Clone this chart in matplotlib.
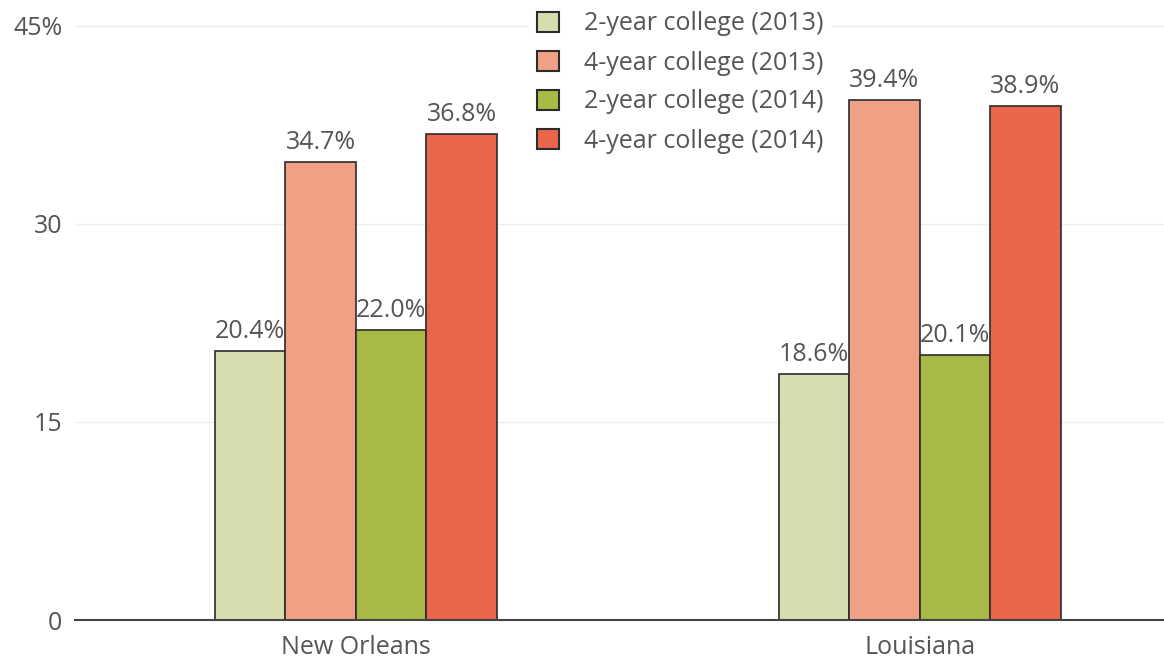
import matplotlib
matplotlib.use("Agg")
import matplotlib.pyplot as plt
import numpy as np
from matplotlib.patches import Patch

categories = ["New Orleans", "Louisiana"]
series_names = ["2-year college (2013)", "4-year college (2013)",
                "2-year college (2014)", "4-year college (2014)"]
values_2yr_2013 = [20.4, 18.6]
values_4yr_2013 = [34.7, 39.4]
values_2yr_2014 = [22.0, 20.1]
values_4yr_2014 = [36.8, 38.9]
series_values = [values_2yr_2013, values_4yr_2013, values_2yr_2014, values_4yr_2014]
colors = ["#d8ddb0", "#f0a185", "#a8ba45", "#e9664a"]
yticks = [0, 15, 30, 45]
ytick_labels = ["0", "15", "30", "45%"]

plt.rcParams['font.family'] = ['Open Sans', 'DejaVu Sans']
W, H = 1164, 658
fig = plt.figure(figsize=(W / 100, H / 100), dpi=100)
left, right, bottom, top = 75, 1164, 620, 6
ax = fig.add_axes([left / W, (H - bottom) / H, (right - left) / W, (bottom - top) / H])

text_color = "#555555"
fs = 18
x = np.arange(len(categories))
bw = 0.125
for i, (vals, c) in enumerate(zip(series_values, colors)):
    pos = x + (i - 1.5) * bw
    ax.bar(pos, vals, width=bw, color=c, edgecolor="#2b2b2b", linewidth=1.2, zorder=3)
    for p, v in zip(pos, vals):
        ax.annotate(f"{v:.1f}%", (p, v), xytext=(0, 5), textcoords="offset points",
                    ha="center", va="bottom", fontsize=fs, color=text_color, zorder=4)

ax.set_xlim(-0.498, 1.433)
ax.set_ylim(0, 46.5)
ax.set_yticks(yticks)
ax.set_yticklabels(ytick_labels)
ax.set_xticks(x)
ax.set_xticklabels(categories)
ax.tick_params(axis="both", length=0, labelsize=fs, colors=text_color)
ax.tick_params(axis="y", pad=9)
ax.tick_params(axis="x", pad=11)
ax.grid(axis="y", color="#eeeeee", linewidth=1, zorder=0)
for s in ["top", "right", "left"]:
    ax.spines[s].set_visible(False)
ax.spines["bottom"].set_color("#444444")
ax.spines["bottom"].set_linewidth(1.5)
ax.spines["bottom"].set_zorder(5)

handles = [Patch(facecolor=c, edgecolor="#2b2b2b", linewidth=1.5) for c in colors]
leg = fig.legend(handles, series_names, loc="upper left", bbox_to_anchor=(529 / W, 1 - 4 / H),
                 frameon=True, facecolor="white", edgecolor="none", framealpha=1,
                 fontsize=fs, labelcolor=text_color, handlelength=0.88, handleheight=0.88,
                 handletextpad=1.0, labelspacing=0.56, borderpad=0.3, borderaxespad=0)
leg.set_zorder(10)

fig.savefig("out.png", dpi=100)
